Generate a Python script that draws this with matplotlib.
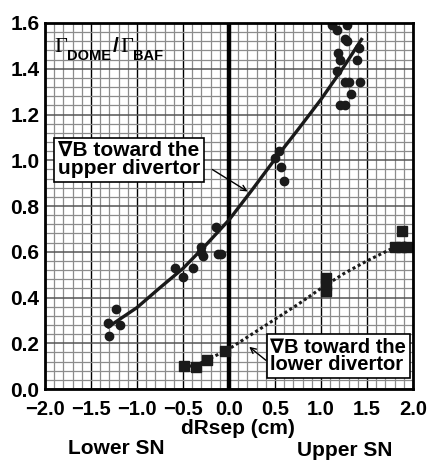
import matplotlib
matplotlib.use("Agg")
import matplotlib.pyplot as plt
import numpy as np

FAM = ["Liberation Sans", "DejaVu Sans"]
SERIF = ["Liberation Serif", "DejaVu Serif"]

# --- data ---
upper_x = [-1.32, -1.30, -1.23, -1.19, -0.59, -0.50, -0.39, -0.30, -0.30, -0.28, -0.14, -0.12, -0.09,
           0.54, 0.50, 0.56, 0.60,
           1.12, 1.17, 1.28, 1.26, 1.28, 1.19, 1.21, 1.41, 1.39, 1.17, 1.26, 1.30, 1.42, 1.33, 1.21, 1.26]
upper_y = [0.29, 0.23, 0.35, 0.28, 0.53, 0.49, 0.53, 0.62, 0.60, 0.58, 0.71, 0.59, 0.59,
           1.04, 1.01, 0.97, 0.91,
           1.59, 1.57, 1.59, 1.53, 1.52, 1.47, 1.44, 1.49, 1.44, 1.39, 1.34, 1.34, 1.34, 1.29, 1.24, 1.24]

fit_upper_x = [-1.31, -1.0, -0.75, -0.5, -0.25, 0.0, 0.25, 0.5, 0.75, 1.0, 1.25, 1.44]
fit_upper_y = [0.272, 0.356, 0.443, 0.527, 0.63, 0.739, 0.87, 1.005, 1.134, 1.266, 1.41, 1.528]

lower_x = [-0.49, -0.36, -0.24, -0.04, 1.05, 1.05, 1.05, 1.80, 1.87, 1.93, 1.88]
lower_y = [0.10, 0.095, 0.125, 0.165, 0.485, 0.455, 0.43, 0.62, 0.62, 0.62, 0.69]

fit_lower_x = [-0.5, -0.35, -0.2, 0.0, 0.25, 0.5, 0.75, 1.0, 1.25, 1.5, 1.75, 1.92]
fit_lower_y = [0.095, 0.105, 0.135, 0.175, 0.24, 0.305, 0.37, 0.44, 0.505, 0.56, 0.61, 0.64]

xticks = [-2.0, -1.5, -1.0, -0.5, 0.0, 0.5, 1.0, 1.5, 2.0]
yticks = [0.0, 0.2, 0.4, 0.6, 0.8, 1.0, 1.2, 1.4, 1.6]

W, H = 434, 473
fig = plt.figure(figsize=(W/100, H/100), dpi=100)
ax = fig.add_axes([45/W, 1-389/H, 368/W, 366/H])
ax.set_xlim(-2, 2)
ax.set_ylim(0, 1.6)

# grid
for v in np.arange(-2, 2.001, 0.1):
    major = abs(v*2 - round(v*2)) < 1e-6
    ax.axvline(v, color="black" if major else "#8c8c8c", lw=1.0 if major else 0.9, zorder=1)
for v in np.arange(0, 1.6001, 0.04):
    major = abs(v*5 - round(v*5)) < 1e-6
    ax.axhline(v, color="#555555" if major else "#8c8c8c", lw=1.1 if major else 0.9, zorder=1)
ax.axvline(0, color="black", lw=3.2, zorder=2)

for s in ax.spines.values():
    s.set_linewidth(2.0)
    s.set_zorder(5)

ax.set_xticks(xticks)
ax.set_yticks(yticks)
ax.set_xticklabels([f"{t:.1f}".replace("-", "\u2212") for t in xticks])
ax.set_yticklabels([f"{t:.1f}" for t in yticks])
ax.tick_params(length=0)
ax.tick_params(axis="x", pad=8)
ax.tick_params(axis="y", pad=4)
for lab in ax.get_xticklabels():
    lab.set_fontfamily(FAM)
    lab.set_fontweight("bold")
    lab.set_fontsize(14.5)
for lab in ax.get_yticklabels():
    lab.set_fontfamily(FAM)
    lab.set_fontweight("bold")
    lab.set_fontsize(15)

ax.plot(fit_upper_x, fit_upper_y, color="#1a1a1a", lw=2.4, zorder=3)
ax.plot(upper_x, upper_y, "o", color="#1a1a1a", ms=6, zorder=4)
ax.plot(fit_lower_x, fit_lower_y, color="#1a1a1a", lw=2.2, linestyle=(0, (1.0, 0.9)), zorder=3)
ax.plot(lower_x, lower_y, "s", color="#1a1a1a", ms=7, zorder=4)

# Gamma label (positions in figure pixels)
def ftext(px, py, s, **kw):
    fig.text(px/W, 1-py/H, s, **kw)

ftext(54, 47, "\u0393", family=SERIF, fontsize=16, va="center", ha="left", zorder=6)
ftext(67, 56, "DOME", family=FAM, fontweight="bold", fontsize=10.5, va="center", ha="left", zorder=6)
ftext(113, 47, "/", family=FAM, fontweight="bold", fontsize=15, va="center", ha="left", zorder=6)
ftext(120, 47, "\u0393", family=SERIF, fontsize=16, va="center", ha="left", zorder=6)
ftext(133, 56, "BAF", family=FAM, fontweight="bold", fontsize=10.5, va="center", ha="left", zorder=6)

bbox = dict(boxstyle="square,pad=0.18", fc="white", ec="black", lw=1.2)
ax.text(-1.86, 1.003, "\u2207B toward the\nupper divertor", family=FAM, fontweight="bold", fontsize=15,
        ha="left", va="center", linespacing=0.9, bbox=bbox, zorder=6)
ax.annotate("", xy=(0.228, 0.857), xytext=(-0.207, 0.966),
            arrowprops=dict(arrowstyle="->", lw=1.0, color="black"), zorder=6)
ax.text(0.45, 0.144, "\u2207B toward the\nlower divertor", family=FAM, fontweight="bold", fontsize=14.5,
        ha="left", va="center", linespacing=0.9, bbox=bbox, zorder=6)
ax.annotate("", xy=(0.196, 0.192), xytext=(0.424, 0.118),
            arrowprops=dict(arrowstyle="->", lw=1.0, color="black"), zorder=6)

ftext(238, 428, "dRsep (cm)", family=FAM, fontweight="bold", fontsize=15, ha="center", va="center")
ftext(116, 448, "Lower SN", family=FAM, fontweight="bold", fontsize=15, ha="center", va="center")
ftext(345, 450, "Upper SN", family=FAM, fontweight="bold", fontsize=15, ha="center", va="center")

fig.savefig("out.png", dpi=100)
